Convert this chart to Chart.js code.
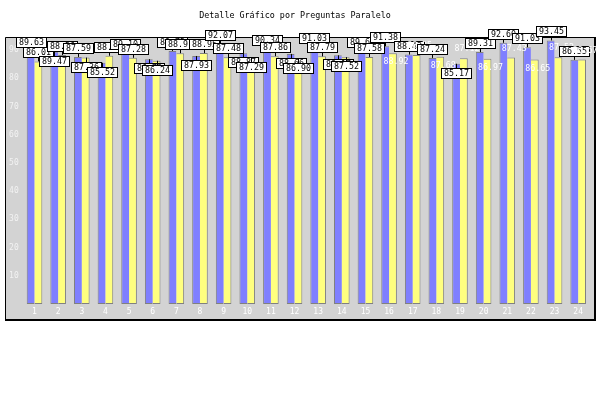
<!DOCTYPE html>
<html>
<head>
<meta charset="utf-8">
<script src="https://cdn.jsdelivr.net/npm/chart.js@4.4.1/dist/chart.umd.min.js"></script>
<style>
html,body{margin:0;padding:0;background:#fff;}
canvas{display:block;}
</style>
</head>
<body>
<canvas id="c" width="600" height="400"></canvas>
<script>
const titleText = 'Detalle Gráfico por Preguntas Paralelo';
const categories = ['1','2','3','4','5','6','7','8','9','10','11','12','13','14','15','16','17','18','19','20','21','22','23','24'];
const seriesBlue = [89.63, 89.47, 87.59, 85.52, 89.10, 86.78, 89.72, 87.93, 92.07, 88.87, 90.34, 88.66, 91.03, 88.17, 89.66, 91.38, 88.43, 87.24, 85.17, 89.31, 92.60, 91.03, 93.45, 86.55];
const seriesYellow = [86.01, 88.26, 87.36, 88.01, 87.28, 86.24, 88.91, 88.95, 87.48, 87.29, 87.86, 86.90, 87.79, 87.52, 87.58, 88.92, 88.25, 87.68, 87.12, 86.97, 87.43, 86.65, 87.52, 86.67];
const yTicks = [10, 20, 30, 40, 50, 60, 70, 80, 90];

const MONO = '"DejaVu Sans Mono", "Liberation Mono", monospace';

const framePlugin = {
  id: 'frame',
  beforeDraw(chart) {
    const ctx = chart.ctx;
    ctx.save();
    ctx.fillStyle = '#ffffff';
    ctx.fillRect(0, 0, 600, 400);
    ctx.fillStyle = '#d3d3d3';
    ctx.fillRect(5, 37, 589, 283);
    ctx.strokeStyle = '#000';
    ctx.lineWidth = 1;
    ctx.beginPath();
    ctx.moveTo(5.5, 320); ctx.lineTo(5.5, 37.5); ctx.lineTo(594, 37.5);
    ctx.stroke();
    ctx.fillStyle = '#000';
    ctx.fillRect(5, 319, 591, 2);
    ctx.fillRect(594, 37, 2, 284);
    ctx.restore();
  }
};

const labelPlugin = {
  id: 'valueLabels',
  afterDatasetsDraw(chart) {
    const ctx = chart.ctx;
    ctx.save();
    ctx.font = '8.3px ' + MONO;
    ctx.textAlign = 'center';
    ctx.textBaseline = 'middle';
    const n = categories.length;
    for (let i = 0; i < n; i++) {
      const num = i + 1;
      for (let d = 0; d < 2; d++) {
        const el = chart.getDatasetMeta(d).data[i];
        const v = chart.data.datasets[d].data[i];
        const txt = v.toFixed(2);
        const x = el.x;
        const top = el.y;
        let below;
        if (d === 0) {
          below = (num % 2 === 0 && num < 15) || num === 19;
        } else {
          below = (num % 2 === 0 && num >= 10 && num !== 24) || num === 3 || num === 6;
        }
        const cy = below ? top + 9 : top - 9;
        const plain = (d === 1 && num >= 16);
        if (plain) {
          ctx.fillStyle = '#ffffff';
          ctx.fillText(txt, x + 3, cy);
          continue;
        }
        const w = Math.round(ctx.measureText(txt).width) + 5;
        const h = 10;
        const bx = Math.round(x - w / 2) + 0.5;
        const by = Math.round(cy - h / 2) + 0.5;
        ctx.strokeStyle = '#000';
        ctx.lineWidth = 1;
        ctx.beginPath();
        const lx = Math.round(x) + 0.5;
        ctx.moveTo(lx, top);
        ctx.lineTo(lx, below ? by : by + h);
        ctx.stroke();
        ctx.fillStyle = '#ffffff';
        ctx.fillRect(bx, by, w, h);
        ctx.strokeRect(bx, by, w, h);
        ctx.fillStyle = '#000';
        ctx.fillText(txt, bx + w / 2, by + h / 2 + 0.5);
      }
    }
    ctx.restore();
  }
};

new Chart(document.getElementById('c'), {
  type: 'bar',
  data: {
    labels: categories,
    datasets: [
      {
        data: seriesBlue,
        backgroundColor: '#7f7fff',
        borderColor: '#808080',
        borderWidth: {left: 1, right: 0, top: 1, bottom: 1},
        borderSkipped: false,
        categoryPercentage: 0.66,
        barPercentage: 1.0
      },
      {
        data: seriesYellow,
        backgroundColor: '#ffff7f',
        borderColor: '#808080',
        borderWidth: {left: 0, right: 1, top: 1, bottom: 1},
        borderSkipped: false,
        categoryPercentage: 0.66,
        barPercentage: 1.0
      }
    ]
  },
  options: {
    responsive: false,
    animation: false,
    devicePixelRatio: 1,
    layout: {padding: {left: 0, right: 10, top: 0, bottom: 0}},
    plugins: {
      legend: {display: false},
      tooltip: {enabled: false},
      title: {
        display: true,
        text: titleText,
        color: '#000',
        font: {family: MONO, size: 8.4, weight: 'normal', lineHeight: 1.2},
        padding: {top: 11, bottom: 18.9}
      }
    },
    scales: {
      x: {
        grid: {display: false, drawTicks: false},
        border: {display: false},
        ticks: {color: '#ffffff', font: {family: MONO, size: 8}, padding: 3, maxRotation: 0, autoSkip: false},
        afterFit(s) { s.height = 96; }
      },
      y: {
        min: 0,
        max: 93.6,
        grid: {display: false, drawTicks: false},
        border: {display: false},
        ticks: {color: '#f2f2f2', font: {family: MONO, size: 8}, padding: 4},
        afterBuildTicks(s) { s.ticks = yTicks.map(v => ({value: v})); },
        afterFit(s) { s.width = 22.7; }
      }
    }
  },
  plugins: [framePlugin, labelPlugin]
});
</script>
</body>
</html>
